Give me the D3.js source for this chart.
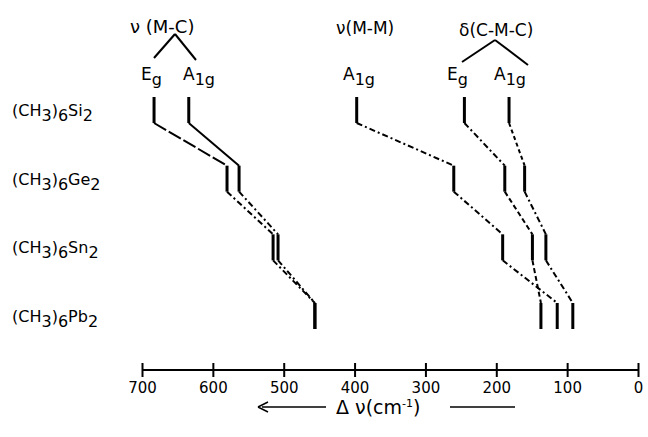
<!DOCTYPE html>
<html><head><meta charset="utf-8">
<script src="https://cdn.jsdelivr.net/npm/d3@7"></script>
<style>body{margin:0;background:#fff}svg{display:block}text{font-family:"DejaVu Sans",sans-serif;fill:#000}</style>
</head><body><svg width="648" height="437"></svg>
<script>
const compounds = [["(CH","3",")","6","Si","2"],["(CH","3",")","6","Ge","2"],["(CH","3",")","6","Sn","2"],["(CH","3",")","6","Pb","2"]];
const nuMC_Eg  = [683, 580, 515, 456];
const nuMC_A1g = [634, 563, 508, 456];
const nuMM_A1g = [397, 260, 191, 114];
const dCMC_Eg  = [245, 188, 149, 137];
const dCMC_A1g = [182, 160, 130, 92];
const tickValues = [700, 600, 500, 400, 300, 200, 100, 0];

const svg = d3.select("svg");
const x = d3.scaleLinear().domain([700, 0]).range([142, 638]);
const y = d3.scalePoint().domain([0,1,2,3]).range([110, 316]);
const half = 13;

const series = [
  {v: nuMC_Eg,  dash: ["14,3", "6,3,2,3", "6,3,2,3"]},
  {v: nuMC_A1g, dash: [null, "6,3,2,3", "6,3,2,3"]},
  {v: nuMM_A1g, dash: ["6,3,2,3", "6,3,2,3", "6,3,2,3"]},
  {v: dCMC_Eg,  dash: ["6,3,2,3", "5,3", "5,3"]},
  {v: dCMC_A1g, dash: ["4,3", "6,3,2,3", "6,3,2,3"]}
];

const g = svg.append("g");
series.forEach(s => {
  s.v.forEach((val, i) => {
    g.append("line").attr("x1", x(val)).attr("x2", x(val))
      .attr("y1", y(i) - half).attr("y2", y(i) + half)
      .attr("stroke", "#000").attr("stroke-width", 3);
    if (i < s.v.length - 1) {
      g.append("line").attr("x1", x(val)).attr("y1", y(i) + half)
        .attr("x2", x(s.v[i+1])).attr("y2", y(i+1) - half)
        .attr("stroke", "#000").attr("stroke-width", 2)
        .attr("stroke-dasharray", s.dash[i]);
    }
  });
});

// compound labels
compounds.forEach((c, i) => {
  const t = svg.append("text").attr("x", 12).attr("y", y(i) + 6).attr("font-size", 16);
  c.forEach((part, k) => {
    const ts = t.append("tspan").text(part);
    if (k % 2 === 1) ts.attr("dy", 5);
    else if (k > 0) ts.attr("dy", -5);
  });
});

// header labels
function sym(xp, yp, main, sub) {
  const t = svg.append("text").attr("x", xp).attr("y", yp).attr("font-size", 17);
  t.append("tspan").text(main);
  t.append("tspan").text(sub).attr("dy", 5).attr("font-size", 16);
}
svg.append("text").attr("x", 130).attr("y", 33).attr("font-size", 18).text("ν (M-C)");
svg.append("text").attr("x", 336).attr("y", 34).attr("font-size", 17).text("ν(M-M)");
svg.append("text").attr("x", 459).attr("y", 36).attr("font-size", 17).text("δ(C-M-C)");
const tree = [[175,34,154,58],[175,34,196,60],[495,40,462,62],[495,40,528,65]];
tree.forEach(d => svg.append("line").attr("x1",d[0]).attr("y1",d[1]).attr("x2",d[2]).attr("y2",d[3])
  .attr("stroke","#000").attr("stroke-width",2));
sym(141, 80, "E", "g");
sym(183, 80, "A", "1g");
sym(343, 80, "A", "1g");
sym(447, 80, "E", "g");
sym(494, 80, "A", "1g");

// axis
const axis = d3.axisBottom(x).tickValues(tickValues).tickSize(7).tickPadding(5).tickFormat(d3.format("d"));
const ax = svg.append("g").attr("transform", "translate(0,370)").call(axis);
ax.select(".domain").attr("stroke-width", 2).attr("d", "M142,0H638");
ax.selectAll(".tick line").attr("y1", -7).attr("y2", 7).attr("stroke-width", 2);
ax.selectAll(".tick text").attr("font-size", 15).attr("font-family", "DejaVu Sans").attr("fill", "#000");

// axis title
svg.append("line").attr("x1", 262).attr("y1", 407).attr("x2", 326).attr("y2", 407).attr("stroke", "#000").attr("stroke-width", 1.5);
svg.append("path").attr("d", "M258,407 L268,402 M258,407 L268,412").attr("stroke", "#000").attr("stroke-width", 1.5).attr("fill", "none");
const at = svg.append("text").attr("x", 336).attr("y", 414).attr("font-size", 19);
at.append("tspan").text("Δ ν(cm");
at.append("tspan").text("-1").attr("dy", -7).attr("font-size", 11);
at.append("tspan").text(")").attr("dy", 7);
svg.append("line").attr("x1", 450).attr("y1", 407).attr("x2", 515).attr("y2", 407).attr("stroke", "#000").attr("stroke-width", 1.5);
</script></body></html>
